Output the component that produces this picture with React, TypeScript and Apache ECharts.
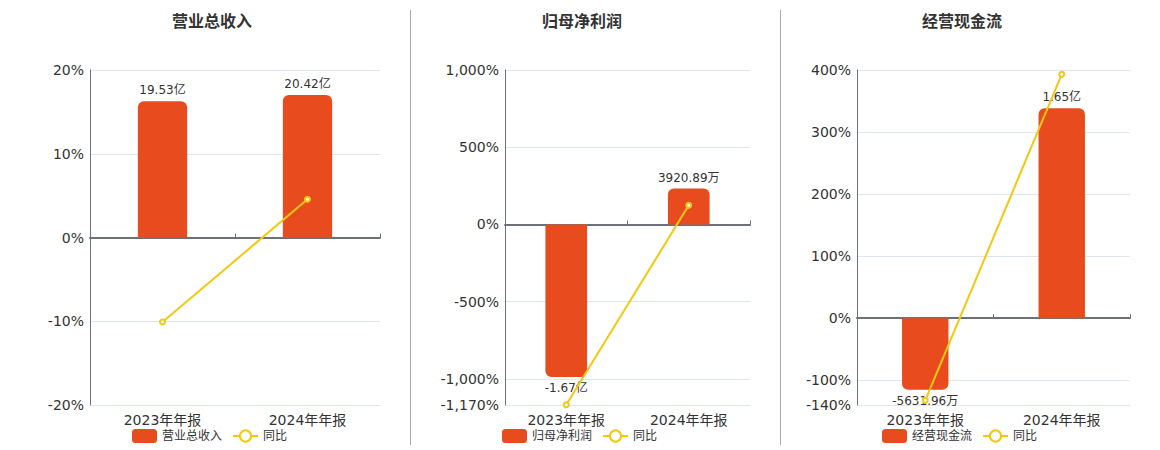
import { useEffect, useRef } from 'react'
import * as echarts from 'echarts'

const categories = ['2023年年报', '2024年年报']
const titles = ['营业总收入', '归母净利润', '经营现金流']

// bar values in 亿
const revenue = [19.53, 20.42]
const netProfit = [-1.67, 0.392089]
const cashFlow = [-0.563196, 1.65]
const revenueLabels = ['19.53亿', '20.42亿']
const netProfitLabels = ['-1.67亿', '3920.89万']
const cashFlowLabels = ['-5631.96万', '1.65亿']

// yoy %
const revenueYoy = [-10.1, 4.56]
const netProfitYoy = [-1168, 123.5]
const cashFlowYoy = [-132.5, 393]

// percent axis bounds / hidden bar axis bounds
const pctMin = [-20, -1170, -140]
const pctMax = [20, 1000, 400]
const barMin = [-24, -1.977, -0.6825]
const barMax = [24, 1.69, 1.95]

const BAR = '#E84C1E'
const LINE = '#F2C811'
const FONT = '"DejaVu Sans", "Noto Sans CJK SC", sans-serif'

const panels = [
  { bars: revenue, labels: revenueLabels, yoy: revenueYoy },
  { bars: netProfit, labels: netProfitLabels, yoy: netProfitYoy },
  { bars: cashFlow, labels: cashFlowLabels, yoy: cashFlowYoy },
]
const gridX = [
  [90, 380],
  [505, 750],
  [857, 1130],
]
const titleX = [207, 577, 957]
const legendLeft = [127, 497, 877]
const sepX = [410.5, 780.5]

export default function App() {
  const elRef = useRef<HTMLDivElement | null>(null)

  useEffect(() => {
    if (!elRef.current) return
    const chart = echarts.init(elRef.current, undefined, { renderer: 'svg' })

    const grid: any[] = []
    const xAxis: any[] = []
    const yAxis: any[] = []
    const series: any[] = []
    const title: any[] = []
    const legend: any[] = []

    panels.forEach((p, i) => {
      // each panel's yoy series gets a unique (invisible) name so legends stay separate
      const yoyName = '同比' + '\u200b'.repeat(i)
      grid.push({ left: gridX[i][0], width: gridX[i][1] - gridX[i][0], top: 70, bottom: 45 })
      title.push({
        text: titles[i],
        left: titleX[i],
        textAlign: 'center',
        top: 8,
        textStyle: { fontSize: 16, fontWeight: 'bold', color: '#333', fontFamily: FONT },
      })
      legend.push({
        left: legendLeft[i],
        top: 424,
        itemWidth: 25,
        itemHeight: 14,
        itemGap: 10,
        textStyle: { fontSize: 12, color: '#333', fontFamily: FONT },
        data: [titles[i], yoyName],
      })
      // bottom category axis carrying labels
      xAxis.push({
        type: 'category',
        gridIndex: i,
        data: categories,
        position: 'bottom',
        axisLine: { show: false, onZero: false },
        axisTick: { show: false },
        axisLabel: { fontSize: 14, color: '#333', fontFamily: FONT, margin: 8 },
      })
      // zero axis line
      xAxis.push({
        type: 'category',
        gridIndex: i,
        data: categories,
        axisLine: { onZero: true, lineStyle: { color: '#6E7079', width: 2 } },
        axisTick: { show: true, length: 4, lineStyle: { color: '#6E7079' } },
        axisLabel: { show: false },
      })
      yAxis.push({
        type: 'value',
        gridIndex: i,
        min: pctMin[i],
        max: pctMax[i],
        axisLine: { show: true, lineStyle: { color: '#6E7079' } },
        axisTick: { show: false },
        splitLine: { lineStyle: { color: '#E0E6F1' } },
        axisLabel: {
          fontSize: 14,
          color: '#333',
          fontFamily: FONT,
          margin: 6,
          formatter: (v: number) => v.toLocaleString('en-US') + '%',
        },
      })
      yAxis.push({
        type: 'value',
        gridIndex: i,
        min: barMin[i],
        max: barMax[i],
        show: false,
        splitLine: { show: false },
      })
      series.push({
        name: titles[i],
        type: 'bar',
        xAxisIndex: i * 2,
        yAxisIndex: i * 2 + 1,
        barWidth: '34%',
        z: 1,
        data: p.bars.map((v, k) => ({
          value: v,
          itemStyle: { borderRadius: v >= 0 ? [6, 6, 0, 0] : [0, 0, 6, 6] },
          label: { position: v >= 0 ? 'top' : 'bottom', formatter: p.labels[k] },
        })),
        itemStyle: { color: BAR },
        label: { show: true, fontSize: 12, color: '#333', fontFamily: FONT, distance: 5 },
      })
      series.push({
        name: yoyName,
        type: 'line',
        xAxisIndex: i * 2,
        yAxisIndex: i * 2,
        z: 5,
        symbol: 'emptyCircle',
        symbolSize: 5,
        data: p.yoy,
        itemStyle: { color: LINE },
        lineStyle: { color: LINE, width: 2 },
      })
    })

    chart.setOption({
      animation: false,
      textStyle: { fontFamily: FONT },
      title,
      legend,
      grid,
      xAxis,
      yAxis,
      series,
      graphic: sepX.map((x) => ({
        type: 'line',
        shape: { x1: x, y1: 10, x2: x, y2: 445 },
        style: { stroke: '#aaa', lineWidth: 1 },
      })),
    })

    return () => chart.dispose()
  }, [])

  return (
    <div
      ref={elRef}
      style={{ position: 'absolute', left: 0, top: 0, width: 1160, height: 450, background: '#fff' }}
    />
  )
}
